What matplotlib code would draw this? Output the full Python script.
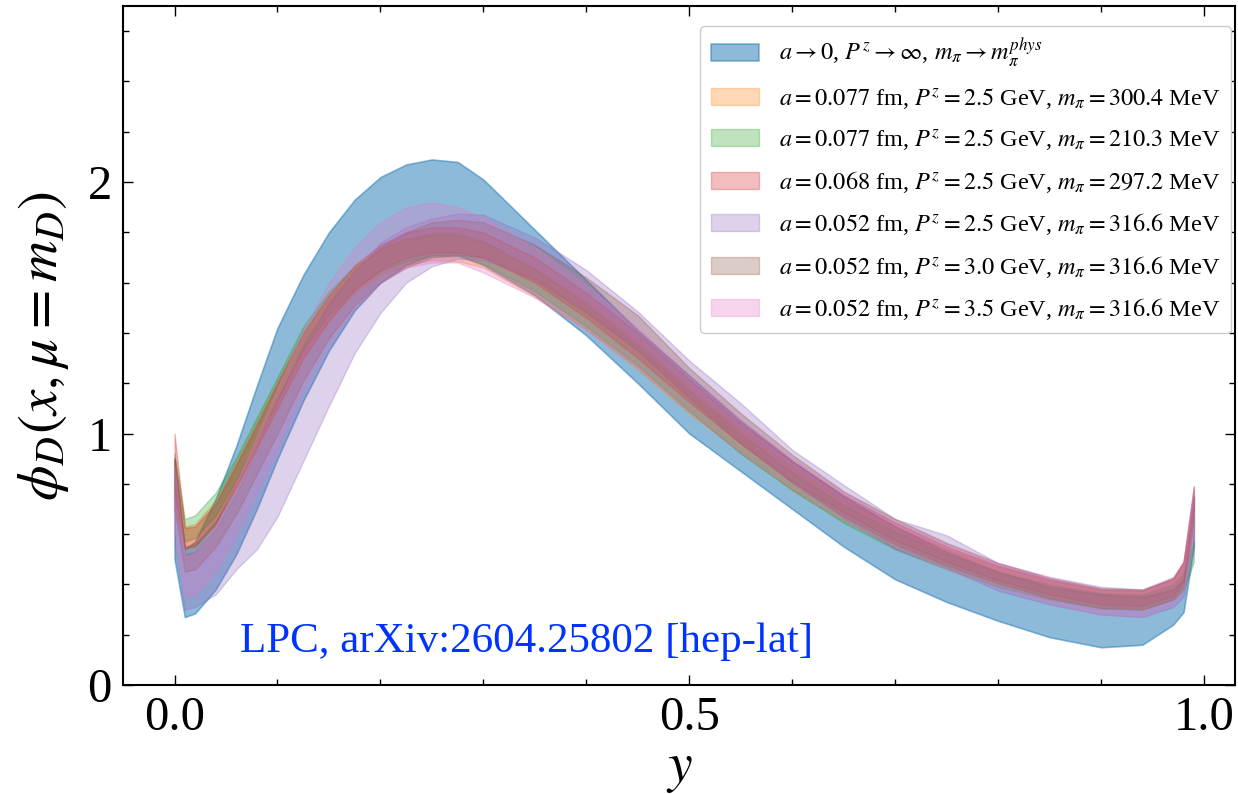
import matplotlib
matplotlib.use("Agg")
import matplotlib.pyplot as plt
import numpy as np
from matplotlib.ticker import MultipleLocator

plt.rcParams['font.family'] = ['Liberation Serif', 'DejaVu Serif']
plt.rcParams['mathtext.fontset'] = 'stix'

# momentum fraction grid
x = [0.00, 0.01, 0.02, 0.04, 0.06, 0.08, 0.10, 0.125, 0.15, 0.175, 0.20, 0.225, 0.25, 0.275,
     0.30, 0.35, 0.40, 0.45, 0.50, 0.55, 0.60, 0.65, 0.70, 0.75, 0.80, 0.85, 0.90, 0.94,
     0.97, 0.98, 0.99]

# extrapolated band (lower / upper edge)
ext_hi = [0.90, 0.54, 0.57, 0.74, 0.95, 1.19, 1.42, 1.63, 1.80, 1.93, 2.02, 2.07, 2.09, 2.08,
          2.01, 1.81, 1.61, 1.41, 1.23, 1.05, 0.89, 0.75, 0.63, 0.53, 0.45, 0.39, 0.36, 0.35,
          0.38, 0.42, 0.75]
ext_lo = [0.50, 0.27, 0.285, 0.38, 0.52, 0.70, 0.90, 1.13, 1.33, 1.49, 1.60, 1.67, 1.71, 1.71,
          1.67, 1.55, 1.39, 1.20, 1.00, 0.85, 0.70, 0.55, 0.42, 0.33, 0.255, 0.19, 0.15, 0.16,
          0.24, 0.29, 0.55]

# lattice ensembles: central value and error
a077_300 = [0.80, 0.59, 0.60, 0.69, 0.84, 1.00, 1.16, 1.35, 1.50, 1.61, 1.68, 1.72, 1.74, 1.735,
            1.71, 1.60, 1.47, 1.31, 1.13, 0.97, 0.82, 0.695, 0.59, 0.505, 0.435, 0.38, 0.345, 0.34,
            0.385, 0.44, 0.68]
a077_300_err = [0.10, 0.04, 0.04, 0.045, 0.05, 0.05, 0.05, 0.05, 0.05, 0.05, 0.05, 0.05, 0.05, 0.05,
                0.05, 0.055, 0.055, 0.055, 0.05, 0.045, 0.045, 0.04, 0.04, 0.035, 0.035, 0.035, 0.035, 0.035,
                0.04, 0.045, 0.06]

a077_210 = [0.85, 0.615, 0.63, 0.72, 0.86, 1.02, 1.18, 1.38, 1.52, 1.62, 1.69, 1.73, 1.75, 1.75,
            1.72, 1.61, 1.47, 1.31, 1.13, 0.96, 0.81, 0.68, 0.575, 0.49, 0.42, 0.37, 0.335, 0.33,
            0.37, 0.41, 0.53]
a077_210_err = [0.07, 0.045, 0.045, 0.045, 0.045, 0.045, 0.045, 0.045, 0.045, 0.045, 0.045, 0.045, 0.045, 0.045,
                0.045, 0.045, 0.045, 0.04, 0.04, 0.04, 0.035, 0.035, 0.035, 0.03, 0.03, 0.03, 0.03, 0.03,
                0.03, 0.035, 0.04]

a068_297 = [0.875, 0.585, 0.59, 0.68, 0.83, 0.99, 1.15, 1.35, 1.50, 1.62, 1.70, 1.75, 1.77, 1.77,
            1.75, 1.65, 1.51, 1.35, 1.17, 1.00, 0.85, 0.72, 0.61, 0.52, 0.445, 0.39, 0.35, 0.345,
            0.39, 0.45, 0.74]
a068_297_err = [0.125, 0.04, 0.04, 0.04, 0.045, 0.045, 0.05, 0.05, 0.05, 0.05, 0.05, 0.05, 0.05, 0.05,
                0.05, 0.05, 0.05, 0.05, 0.045, 0.04, 0.04, 0.035, 0.035, 0.03, 0.03, 0.03, 0.03, 0.03,
                0.035, 0.04, 0.05]

a052_p25 = [0.70, 0.41, 0.42, 0.49, 0.61, 0.74, 0.90, 1.11, 1.31, 1.48, 1.62, 1.71, 1.76, 1.785,
            1.78, 1.70, 1.57, 1.41, 1.22, 1.05, 0.87, 0.73, 0.60, 0.53, 0.43, 0.375, 0.335, 0.325,
            0.37, 0.42, 0.65]
a052_p25_err = [0.15, 0.11, 0.11, 0.13, 0.15, 0.20, 0.23, 0.22, 0.20, 0.16, 0.14, 0.11, 0.095, 0.09,
                0.09, 0.08, 0.08, 0.075, 0.07, 0.07, 0.065, 0.065, 0.06, 0.065, 0.055, 0.055, 0.055, 0.055,
                0.06, 0.07, 0.10]

a052_p30 = [0.80, 0.50, 0.51, 0.60, 0.74, 0.90, 1.07, 1.28, 1.45, 1.58, 1.67, 1.73, 1.77, 1.78,
            1.77, 1.68, 1.55, 1.40, 1.20, 1.02, 0.86, 0.72, 0.61, 0.52, 0.445, 0.385, 0.345, 0.34,
            0.38, 0.44, 0.72]
a052_p30_err = [0.10, 0.05, 0.05, 0.05, 0.06, 0.06, 0.07, 0.07, 0.07, 0.07, 0.07, 0.07, 0.07, 0.07,
                0.07, 0.07, 0.07, 0.07, 0.06, 0.06, 0.055, 0.05, 0.05, 0.045, 0.04, 0.04, 0.04, 0.04,
                0.04, 0.05, 0.07]

a052_p35 = [0.75, 0.43, 0.44, 0.54, 0.70, 0.88, 1.06, 1.29, 1.48, 1.62, 1.72, 1.78, 1.80, 1.79,
            1.75, 1.64, 1.50, 1.34, 1.16, 0.99, 0.84, 0.71, 0.60, 0.51, 0.435, 0.375, 0.33, 0.325,
            0.37, 0.43, 0.70]
a052_p35_err = [0.12, 0.08, 0.08, 0.09, 0.10, 0.11, 0.12, 0.12, 0.12, 0.12, 0.12, 0.12, 0.12, 0.11,
                0.11, 0.10, 0.09, 0.08, 0.07, 0.065, 0.06, 0.055, 0.05, 0.05, 0.05, 0.05, 0.05, 0.05,
                0.05, 0.06, 0.08]

labels = [
    r"$a\to 0$, $P^z\to\infty$, $m_\pi\to m_\pi^{phys}$",
    r"$a=0.077$ fm, $P^z=2.5$ GeV, $m_\pi=300.4$ MeV",
    r"$a=0.077$ fm, $P^z=2.5$ GeV, $m_\pi=210.3$ MeV",
    r"$a=0.068$ fm, $P^z=2.5$ GeV, $m_\pi=297.2$ MeV",
    r"$a=0.052$ fm, $P^z=2.5$ GeV, $m_\pi=316.6$ MeV",
    r"$a=0.052$ fm, $P^z=3.0$ GeV, $m_\pi=316.6$ MeV",
    r"$a=0.052$ fm, $P^z=3.5$ GeV, $m_\pi=316.6$ MeV",
]

ensembles = [(a077_300, a077_300_err), (a077_210, a077_210_err), (a068_297, a068_297_err),
             (a052_p25, a052_p25_err), (a052_p30, a052_p30_err), (a052_p35, a052_p35_err)]

fig = plt.figure(figsize=(12.38, 7.94), dpi=100)
ax = fig.add_axes([0.0994, 0.1373, 0.8982, 0.8551])

ax.fill_between(x, ext_lo, ext_hi, color='C0', alpha=0.5, linewidth=1.2, label=labels[0])
for i, (c, e) in enumerate(ensembles):
    c = np.array(c)
    e = np.array(e)
    ax.fill_between(x, c - e, c + e, color='C%d' % (i + 1), alpha=0.3, linewidth=1.0,
                    label=labels[i + 1])

ax.text(0.064, 0.13, "LPC, arXiv:2604.25802 [hep-lat]", color='#0033ff', fontsize=31,
        va='baseline', ha='left')

ax.set_xlim(-0.05, 1.03)
ax.set_ylim(0, 2.7)
ax.set_xticks([0.0, 0.5, 1.0])
ax.set_yticks([0, 1, 2])
ax.xaxis.set_minor_locator(MultipleLocator(0.1))
ax.yaxis.set_minor_locator(MultipleLocator(0.2))
ax.tick_params(which='both', direction='in', top=True, right=True, labelsize=35, width=1.0)
ax.tick_params(which='major', length=7, pad=8)
ax.tick_params(which='minor', length=4)
for s in ax.spines.values():
    s.set_linewidth(1.5)

ax.set_xlabel(r"$y$", fontsize=40, labelpad=2)
ax.set_ylabel(r"$\phi_D(x,\mu=m_D)$", fontsize=41, labelpad=12)

ax.legend(loc='upper right', bbox_to_anchor=(0.9964, 0.9705), borderaxespad=0,
          fontsize=17.5, framealpha=1.0, edgecolor='0.8', labelspacing=0.68,
          handletextpad=0.8, borderpad=0.45)

fig.savefig('out.png', dpi=100)
